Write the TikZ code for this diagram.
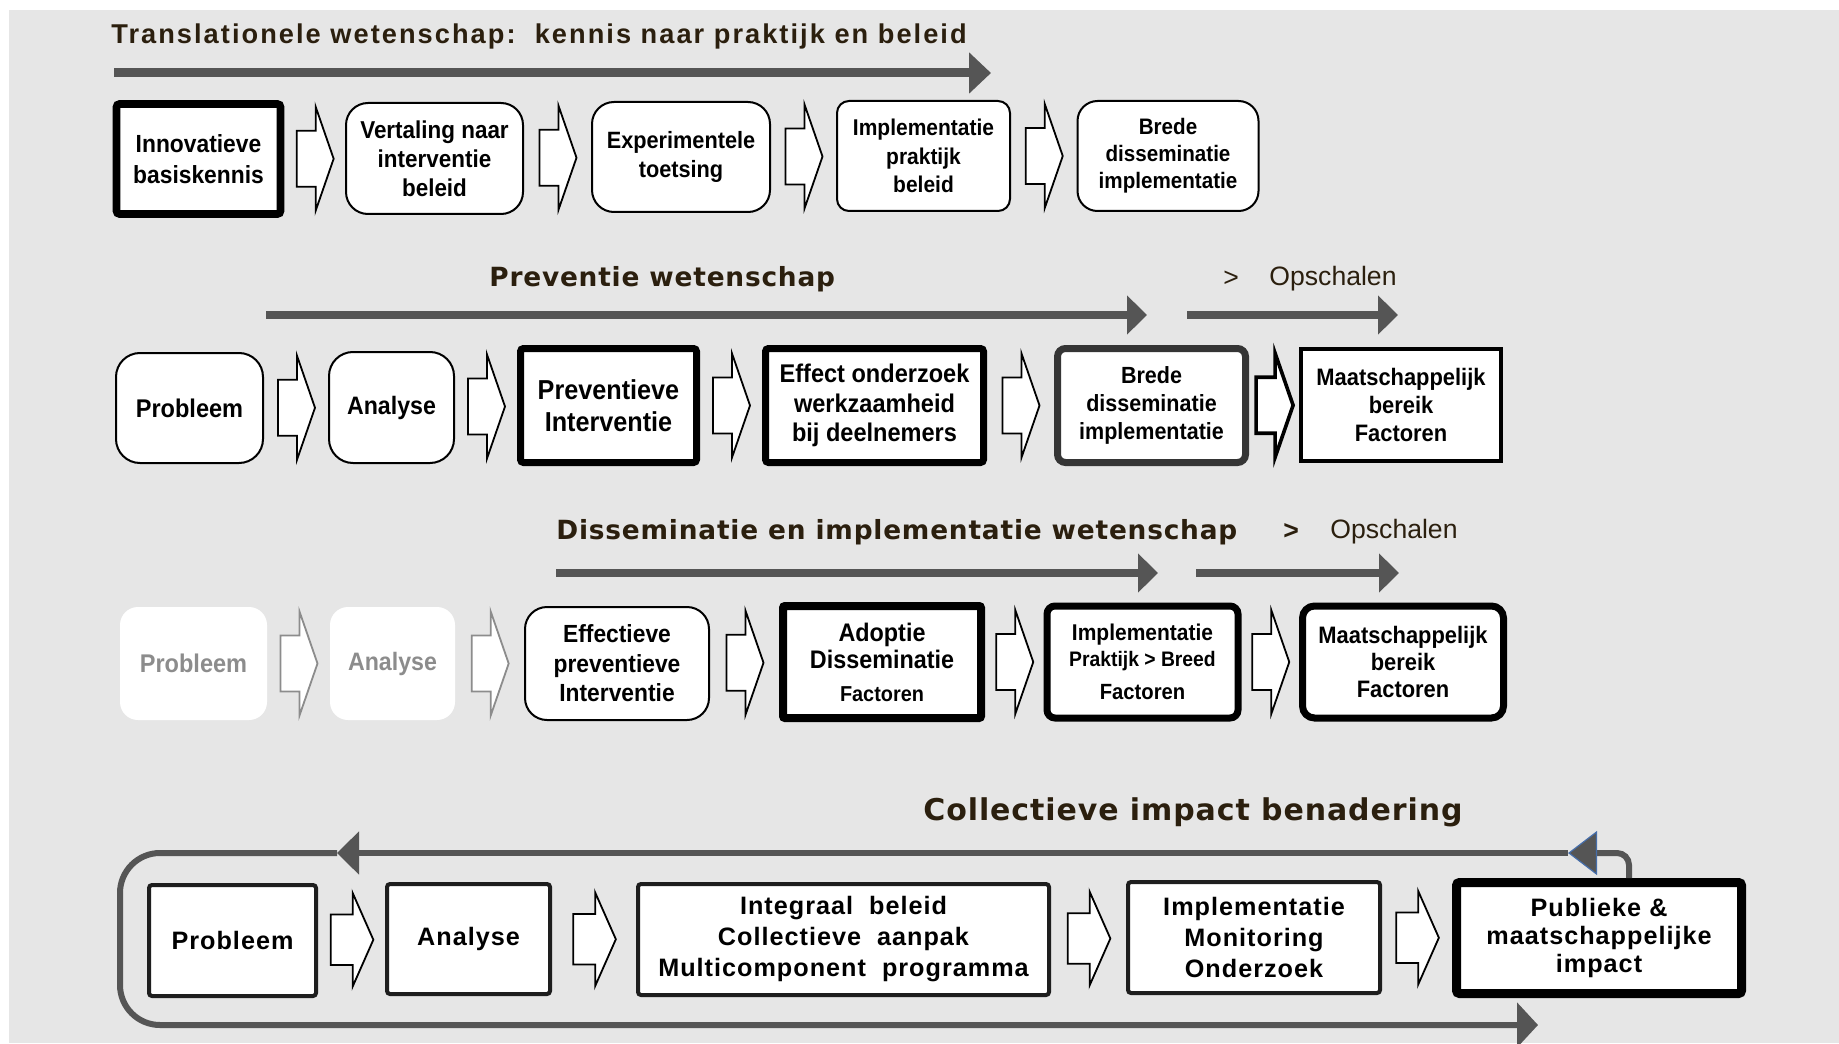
\documentclass[tikz,border=0pt]{standalone}
\usepackage{fontspec}
\setmainfont{Liberation Sans}
\newfontfamily\boxfont{Liberation Sans}[FakeStretch=0.92]
\newfontfamily\loopfont{Liberation Sans}[LetterSpace=4]
\newfontfamily\headfont{DejaVu Sans}[LetterSpace=3]
\newfontfamily\firstheadfont{Liberation Sans}[LetterSpace=7.5]
\usetikzlibrary{calc,positioning,arrows.meta}

\definecolor{bggrey}{RGB}{230,230,230}
\definecolor{flowgrey}{RGB}{85,85,85}
\definecolor{headbrown}{RGB}{43,31,14}
\definecolor{fadegrey}{RGB}{140,140,140}
\definecolor{tipblue}{RGB}{70,110,170}
\definecolor{edgedark}{RGB}{30,30,30}

\tikzset{
    stage/.style={draw=black, fill=white, align=center, inner sep=0pt,
        font=\boxfont\bfseries},
    soft/.style={stage, line width=1pt, rounded corners=10pt},
    heavy/.style={stage, line width=3.5pt, rounded corners=1.5pt},
    faded/.style={stage, draw=none, text=fadegrey, rounded corners=9pt},
    loopbox/.style={stage, draw=edgedark, line width=2pt, rounded corners=1.5pt},
    sz/.style 2 args={font={\boxfont\bfseries\fontsize{#1}{#2}\selectfont}},
    loopsz/.style 2 args={font={\loopfont\bfseries\fontsize{#1}{#2}\selectfont}},
    steparrow/.style={draw=black, fill=white, line width=0.9pt, line join=miter},
    flow/.style={draw=flowgrey, line width=3.8pt, -{Triangle[length=10pt,width=19pt]}},
    loopline/.style={draw=flowgrey, line width=3pt},
    heading/.style={anchor=west, inner sep=0pt, text=headbrown,
        font=\headfont\bfseries\fontsize{13.2}{15}\selectfont},
    scaleup/.style={inner sep=0pt, text=headbrown,
        font=\fontsize{13.3}{15}\selectfont},
}
\newcommand{\stepto}[3][]{%
    \path ($(#2.east)!0.5!(#3.west)$) coordinate (mid);
    \draw[steparrow, shift={(mid)}, #1] (-18,-28) -- (1,-28) -- (1,-52)
        -- (19,0) -- (1,52) -- (1,28) -- (-18,28) -- cycle;
}

\begin{document}
\begin{tikzpicture}[x=0.5pt, y=-0.5pt]
    \useasboundingbox (0,0) rectangle (1839,1043);
    \fill[bggrey] (9,10) rectangle (1839,1043);

    % translationele wetenschap
    \node[heading, font=\firstheadfont\bfseries\fontsize{13.6}{15}\selectfont] (title1) at (111,36)
        {Translationele wetenschap:\ \ kennis naar praktijk en beleid};
    \coordinate (f1s) at (114,73);
    \coordinate (f1e) at (991,73);
    \draw[flow, line width=4.5pt, -{Triangle[length=11pt,width=20pt]}] (f1s) -- (f1e);

    \node[heavy, line width=3.8pt, sz={12.4}{15.2}, minimum width=82pt, minimum height=55pt] (r1a) at (198.5,159) {Innovatieve\\basiskennis};
    \node[soft, rounded corners=11pt, sz={12.2}{14.4}, minimum width=88.5pt, minimum height=55.5pt] (r1b) at (434.5,158.5) {Vertaling naar\\interventie\\beleid};
    \node[soft, rounded corners=11pt, sz={11.8}{14.4}, minimum width=89pt, minimum height=55pt] (r1c) at (681,157) {Experimentele\\toetsing};
    \node[soft, rounded corners=6pt, sz={11.4}{14.4}, minimum width=86.5pt, minimum height=55pt] (r1d) at (923.5,156) {Implementatie\\praktijk\\beleid};
    \node[soft, rounded corners=10pt, sz={11.2}{13.5}, minimum width=90.5pt, minimum height=55pt] (r1e) at (1168,156) {Brede\\disseminatie\\implementatie};

    \stepto{r1a}{r1b}
    \stepto{r1b}{r1c}
    \stepto{r1c}{r1d}
    \stepto{r1d}{r1e}

    % preventie wetenschap
    \node[heading] (title2) at (489,279) {Preventie wetenschap};
    \node[scaleup] (gt2) at (1231,279) {>};
    \node[scaleup, anchor=west] (up2) at (1269,279) {Opschalen};
    \coordinate (f2s) at (266,315);
    \coordinate (f2e) at (1147,315);
    \coordinate (g2s) at (1187,315);
    \coordinate (g2e) at (1398,315);
    \draw[flow] (f2s) -- (f2e);
    \draw[flow] (g2s) -- (g2e);

    \node[soft, rounded corners=12pt, sz={12.8}{15}, minimum width=73.5pt, minimum height=55pt] (r2a) at (189.5,408) {Probleem};
    \node[soft, rounded corners=12pt, sz={12.6}{15}, minimum width=62.5pt, minimum height=55.5pt] (r2b) at (391.5,407.5) {Analyse};
    \node[heavy, sz={13.7}{15.8}, minimum width=88pt, minimum height=57pt] (r2c) at (608.5,405.5) {Preventieve\\Interventie};
    \node[heavy, sz={12.8}{14.7}, minimum width=109pt, minimum height=57pt] (r2d) at (874.5,405.5) {Effect onderzoek\\werkzaamheid\\bij deelnemers};
    \node[heavy, draw=edgedark!90, rounded corners=4pt, sz={11.7}{13.8}, minimum width=94pt, minimum height=57pt] (r2e) at (1151.5,405.5) {Brede\\disseminatie\\implementatie};
    \node[stage, line width=1.8pt, sz={11.9}{13.8}, minimum width=100pt, minimum height=56pt] (r2f) at (1401,405) {Maatschappelijk\\bereik\\Factoren};

    \stepto{r2a}{r2b}
    \stepto{r2b}{r2c}
    \stepto{r2c}{r2d}
    \stepto{r2d}{r2e}
    \stepto[line width=1.8pt]{r2e}{r2f}

    % disseminatie en implementatie wetenschap
    \node[heading] (title3) at (556,532) {Disseminatie en implementatie wetenschap};
    \node[scaleup, font=\bfseries\fontsize{13.3}{15}\selectfont] (gt3) at (1291,532) {>};
    \node[scaleup, anchor=west] (up3) at (1330,532) {Opschalen};
    \coordinate (f3s) at (556,573);
    \coordinate (f3e) at (1158,573);
    \coordinate (g3s) at (1196,573);
    \coordinate (g3e) at (1399,573);
    \draw[flow] (f3s) -- (f3e);
    \draw[flow] (g3s) -- (g3e);

    \node[faded, sz={12.8}{15}, minimum width=73.5pt, minimum height=56.5pt] (r3a) at (193.5,663.5) {Probleem};
    \node[faded, sz={12.6}{15}, minimum width=62.5pt, minimum height=56.5pt] (r3b) at (392.5,663.5) {Analyse};
    \node[soft, rounded corners=11pt, sz={12.4}{14.7}, minimum width=92pt, minimum height=56.5pt] (r3c) at (617,663.5) {Effectieve\\preventieve\\Interventie};
    \node[heavy, line width=4pt, rounded corners=1pt, sz={12.7}{13.5}, minimum width=99pt, minimum height=56pt] (r3d) at (882,662)
        {Adoptie\\Disseminatie\\[3pt]{\fontsize{10.8}{13}\selectfont Factoren}};
    \node[heavy, rounded corners=4pt, sz={11.4}{12.9}, minimum width=95.5pt, minimum height=56pt] (r3e) at (1142.5,662)
        {Implementatie\\{\fontsize{10.5}{12.9}\selectfont Praktijk > Breed}\\[3.5pt]{\fontsize{11}{13}\selectfont Factoren}};
    \node[heavy, rounded corners=6pt, sz={11.9}{13.5}, minimum width=100.5pt, minimum height=56pt] (r3f) at (1403,662) {Maatschappelijk\\bereik\\Factoren};

    \stepto[draw=fadegrey]{r3a}{r3b}
    \stepto[draw=fadegrey]{r3b}{r3c}
    \stepto{r3c}{r3d}
    \stepto{r3d}{r3e}
    \stepto{r3e}{r3f}

    % collectieve impact
    \node[heading, font=\headfont\bfseries\fontsize{15}{17}\selectfont] (title4) at (923,812) {Collectieve impact benadering};

    \node[loopbox, loopsz={12.6}{15.5}, minimum width=83.5pt, minimum height=55.5pt] (r4a) at (232.5,940.5) {Probleem};
    \node[loopbox, loopsz={12.6}{15.5}, minimum width=81.5pt, minimum height=55pt] (r4b) at (468.5,939) {Analyse};
    \node[loopbox, loopsz={12.6}{15.5}, minimum width=205.5pt, minimum height=55.5pt] (r4c) at (843.5,939.5) {Integraal\ \ beleid\\Collectieve\ \ aanpak\\Multicomponent\ \ programma};
    \node[loopbox, loopsz={12.6}{15.5}, minimum width=126pt, minimum height=55.5pt] (r4d) at (1254,937.5) {Implementatie\\Monitoring\\Onderzoek};
    \node[loopbox, draw=black, line width=4.5pt, loopsz={12.6}{13.8}, minimum width=142.5pt, minimum height=55.5pt] (r4e) at (1599,938) {Publieke \&\\maatschappelijke\\impact};

    \stepto[xscale=1.15, yscale=0.9]{r4a}{r4b}
    \stepto[xscale=1.15, yscale=0.9]{r4b}{r4c}
    \stepto[xscale=1.15, yscale=0.9]{r4c}{r4d}
    \stepto[xscale=1.15, yscale=0.9]{r4d}{r4e}

    \coordinate (tipR) at (1568,853);
    \coordinate (tipL) at (337,853);
    \coordinate (loopW) at (120,940);
    \coordinate (tipB) at (1538,1025);
    \draw[loopline, -{Triangle[length=11pt,width=21pt]}] (tipR) -- (tipL);
    \draw[loopline, rounded corners=20pt, -{Triangle[length=10.5pt,width=22pt]}] (tipL) -| (loopW) |- (tipB);
    \draw[loopline, rounded corners=6pt, -{Triangle[length=14.5pt,width=22pt,color=tipblue,fill=flowgrey,line width=0.6pt]}]
        ($(r4e.north)+(30,0)$) |- (tipR);
\end{tikzpicture}
\end{document}
